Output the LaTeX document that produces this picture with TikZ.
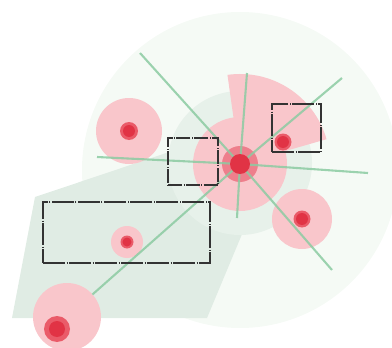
\documentclass[tikz,border=0pt]{standalone}
\usepackage{xcolor}
\definecolor{mistGreen}{HTML}{F5FAF5}
\definecolor{paleGreen}{HTML}{E7F1EA}
\definecolor{sageGreen}{HTML}{E0ECE4}
\definecolor{softPink}{HTML}{F9C6CB}
\definecolor{rosePink}{HTML}{EE7F8C}
\definecolor{glowRed}{HTML}{EA5B69}
\definecolor{coreRed}{HTML}{E13345}
\definecolor{spokeGreen}{HTML}{8CCBA2}
\definecolor{frameGray}{HTML}{333333}
\usepackage{tikz}
\usetikzlibrary{calc}
\tikzset{
    % Base style for all round markers
    dot base/.style={
        circle,
        inner sep=0pt,
        outer sep=0pt,
        draw=none,
    },
    % Soft pink halo round a site
    halo/.style={
        dot base,
        fill=softPink,
        minimum size=#1,
    },
    % Darker ring round the hub
    ring/.style={
        dot base,
        fill=rosePink,
        minimum size=#1,
    },
    % Light rim of a red dot
    glow/.style={
        dot base,
        fill=glowRed,
        minimum size=#1,
    },
    % Solid red dot
    core/.style={
        dot base,
        fill=coreRed,
        minimum size=#1,
    },
    % Green spokes out of the hub
    spoke/.style={
        draw=spokeGreen,
        line width=2.1pt,
        draw opacity=.85,
    },
    % Dash-dot frames
    frame long/.style={
        rectangle,
        draw=frameGray,
        line width=1.4pt,
        inner sep=0pt,
        dash pattern=on 22pt off 1.5pt on 1pt off 1.5pt,
    },
    frame short/.style={
        frame long,
        dash pattern=on 14pt off 1.5pt on 0.8pt off 1.5pt,
    },
}

\begin{document}
\begin{tikzpicture}[x=1pt, y=-1pt]
    \useasboundingbox (0,0) rectangle (392,348);

    % backdrop
    \fill [mistGreen] (240,170) circle [radius=158];
    \fill [sageGreen] (12,318) -- (35,197) -- (205,140) -- (250,215) -- (207,318) -- cycle;
    \fill [paleGreen] (240,163) circle [radius=72];

    % halos
    \node (hub) [halo=94pt] at (240,164) {};
    \fill [softPink] (hub.center) -- ++(-16:90) arc [start angle=-16, end angle=-98, radius=90] -- cycle;
    \node (west) [halo=66pt] at (129,131) {};
    \node (southeast) [halo=60pt] at (302,219) {};
    \node (inner) [halo=32pt] at (127,242) {};
    \node (southwest) [halo=68pt] at (67,317) {};
    \node (hub ring) [ring=36pt] at (hub) {};

    % spoke ends
    \coordinate (tip nw) at (140,53);
    \coordinate (tip se) at (332,270);
    \coordinate (tip n) at (247,73);
    \coordinate (tip s) at (237,218);
    \coordinate (tip ne) at (342,78);
    \coordinate (tip w) at (97,157);
    \coordinate (tip e) at (368,173);

    \draw [spoke] (hub.center) -- (tip nw);
    \draw [spoke] (hub.center) -- (tip se);
    \draw [spoke] (hub.center) -- (tip n);
    \draw [spoke] (hub.center) -- (tip s);
    \draw [spoke] (hub.center) -- (tip ne);
    \draw [spoke] (hub.center) -- (tip w);
    \draw [spoke] (hub.center) -- (tip e);
    \draw [spoke] (hub.center) -- (southwest);

    % red dots
    \node (hub core) [core=20pt] at (hub) {};
    \node (west glow) [glow=18pt] at (west) {};
    \node (west core) [core=12pt] at (west) {};
    \node (northeast glow) [glow=17pt] at (283,142) {};
    \node (northeast core) [core=12pt] at (northeast glow) {};
    \node (southeast glow) [glow=17pt] at (302,219) {};
    \node (southeast core) [core=12pt] at (southeast glow) {};
    \node (inner glow) [glow=13pt] at (inner) {};
    \node (inner core) [core=9pt] at (inner) {};
    \node (southwest glow) [glow=26pt] at (57,329) {};
    \node (southwest core) [core=16pt] at (southwest glow) {};

    % frames
    \node (frame hub) [frame short, minimum width=50pt, minimum height=47pt] at (193,161.5) {};
    \node (frame northeast) [frame long, minimum width=49pt, minimum height=48pt] at (296.5,128) {};
    \node (frame inner) [frame long, minimum width=167pt, minimum height=61pt] at (126.5,232.5) {};
\end{tikzpicture}
\end{document}
